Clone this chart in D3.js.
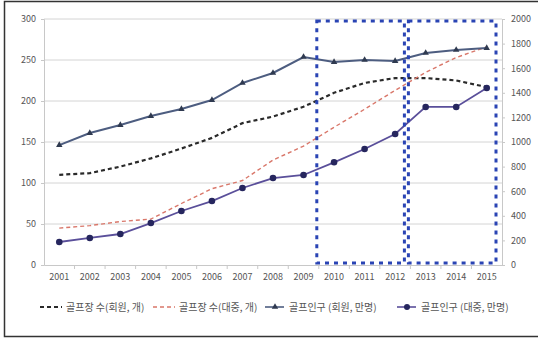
<!DOCTYPE html>
<html>
<head>
<meta charset="utf-8">
<script src="https://cdn.jsdelivr.net/npm/d3@7"></script>
<style>
  body { margin: 0; background: #fff; }
  text { font-family: "Noto Sans CJK KR", "DejaVu Sans", sans-serif; }
</style>
</head>
<body>
<svg id="chart" width="538" height="340"></svg>
<script>
var years = ["2001","2002","2003","2004","2005","2006","2007","2008","2009","2010","2011","2012","2013","2014","2015"];
var courseMember = [110, 112, 120, 130, 142, 155, 173, 181, 193, 210, 222, 228, 228, 225, 217];
var coursePublic = [45, 48, 53, 56, 75, 93, 103, 128, 145, 168, 190, 213, 235, 253, 266];
var popMember = [975, 1073, 1138, 1211, 1268, 1341, 1480, 1561, 1691, 1650, 1667, 1658, 1724, 1748, 1764];
var popPublic = [187, 220, 252, 341, 439, 520, 626, 707, 732, 835, 943, 1065, 1285, 1285, 1439];
var leftTicks = [0, 50, 100, 150, 200, 250, 300];
var rightTicks = [0, 200, 400, 600, 800, 1000, 1200, 1400, 1600, 1800, 2000];
var legendLabels = ["골프장 수(회원, 개)", "골프장 수(대중, 개)", "골프인구 (회원, 만명)", "골프인구 (대중, 만명)"];

var svg = d3.select("#chart");
var plotLeft = 44, plotRight = 502, plotTop = 19, plotBottom = 265;

// frame around the picture
svg.append("rect").attr("x", 4.5).attr("y", 1.5).attr("width", 540).attr("height", 335)
   .attr("fill", "none").attr("stroke", "#333").attr("stroke-width", 1.5);

var x = d3.scaleBand().domain(years).range([plotLeft, plotRight]);
var yL = d3.scaleLinear().domain([0, 300]).range([plotBottom, plotTop]);
var yR = d3.scaleLinear().domain([0, 2000]).range([plotBottom, plotTop]);
var cx = d => x(d) + x.bandwidth() / 2;

// gridlines
svg.append("g").selectAll("line").data(leftTicks.slice(1)).join("line")
   .attr("x1", plotLeft).attr("x2", plotRight)
   .attr("y1", d => yL(d)).attr("y2", d => yL(d))
   .attr("stroke", "#d4d4d4").attr("stroke-width", 1);

var axL = svg.append("g").attr("transform", "translate(" + plotLeft + ",0)")
   .call(d3.axisLeft(yL).tickValues(leftTicks).tickSize(3).tickPadding(5));
var axR = svg.append("g").attr("transform", "translate(" + plotRight + ",0)")
   .call(d3.axisRight(yR).tickValues(rightTicks).tickFormat(d3.format("d")).tickSize(3).tickPadding(6));
var axX = svg.append("g").attr("transform", "translate(0," + plotBottom + ")")
   .call(d3.axisBottom(x).tickSize(0).tickPadding(9));
[axL, axR, axX].forEach(a => {
  a.select(".domain").attr("stroke", "#c8c8c8");
  a.selectAll(".tick line").attr("stroke", "#c8c8c8");
  a.selectAll("text").attr("fill", "#555").attr("font-size", 9);
});
// x category tick marks between bands
svg.append("g").selectAll("line").data(years.slice(1)).join("line")
   .attr("x1", d => x(d)).attr("x2", d => x(d))
   .attr("y1", plotBottom).attr("y2", plotBottom + 4).attr("stroke", "#c8c8c8");

var lineL = d3.line().x((d, i) => cx(years[i])).y(d => yL(d));
var lineR = d3.line().x((d, i) => cx(years[i])).y(d => yR(d));

svg.append("path").datum(courseMember).attr("d", lineL)
   .attr("fill", "none").attr("stroke", "#2a2a2a").attr("stroke-width", 2.2)
   .attr("stroke-dasharray", "4,3");
svg.append("path").datum(coursePublic).attr("d", lineL)
   .attr("fill", "none").attr("stroke", "#d9776a").attr("stroke-width", 1.4)
   .attr("stroke-dasharray", "4,3");
svg.append("path").datum(popMember).attr("d", lineR)
   .attr("fill", "none").attr("stroke", "#4d5d80").attr("stroke-width", 2);
svg.append("g").selectAll("path").data(popMember).join("path")
   .attr("transform", (d, i) => "translate(" + cx(years[i]) + "," + yR(d) + ")")
   .attr("d", d3.symbol(d3.symbolTriangle, 18))
   .attr("fill", "#2f3a50");
svg.append("path").datum(popPublic).attr("d", lineR)
   .attr("fill", "none").attr("stroke", "#5a4f9a").attr("stroke-width", 1.8);
svg.append("g").selectAll("circle").data(popPublic).join("circle")
   .attr("cx", (d, i) => cx(years[i])).attr("cy", d => yR(d)).attr("r", 3.3)
   .attr("fill", "#26265e");

// dotted highlight boxes
var boxes = [["2010", "2012"], ["2013", "2015"]];
svg.append("g").selectAll("rect").data(boxes).join("rect")
   .attr("x", d => x(d[0]) - 2)
   .attr("width", d => x(d[1]) + x.bandwidth() - x(d[0]) - 4)
   .attr("y", 21).attr("height", 242)
   .attr("fill", "none").attr("stroke", "#2a44b4").attr("stroke-width", 3)
   .attr("stroke-dasharray", "4,5");

// legend
var legendX = [40, 153, 265, 397];
var lg = svg.append("g").selectAll("g").data(legendLabels).join("g")
   .attr("transform", (d, i) => "translate(" + legendX[i] + ",307)");
lg.append("line").attr("x1", 0).attr("x2", (d, i) => i < 2 ? 22 : 19).attr("y1", 0).attr("y2", 0)
   .attr("stroke", (d, i) => ["#2a2a2a", "#d9776a", "#4d5d80", "#5a4f9a"][i])
   .attr("stroke-width", (d, i) => i === 0 ? 2.2 : 1.6)
   .attr("stroke-dasharray", (d, i) => i < 2 ? "4,3" : null);
lg.filter((d, i) => i === 2).append("path").attr("transform", "translate(10,0)")
   .attr("d", d3.symbol(d3.symbolTriangle, 18)).attr("fill", "#2f3a50");
lg.filter((d, i) => i === 3).append("circle").attr("cx", 10).attr("r", 3).attr("fill", "#26265e");
lg.append("text").attr("x", (d, i) => i < 2 ? 26 : 24).attr("y", 3.5)
   .attr("font-size", 10).attr("fill", "#555").text(d => d);
</script>
</body>
</html>
